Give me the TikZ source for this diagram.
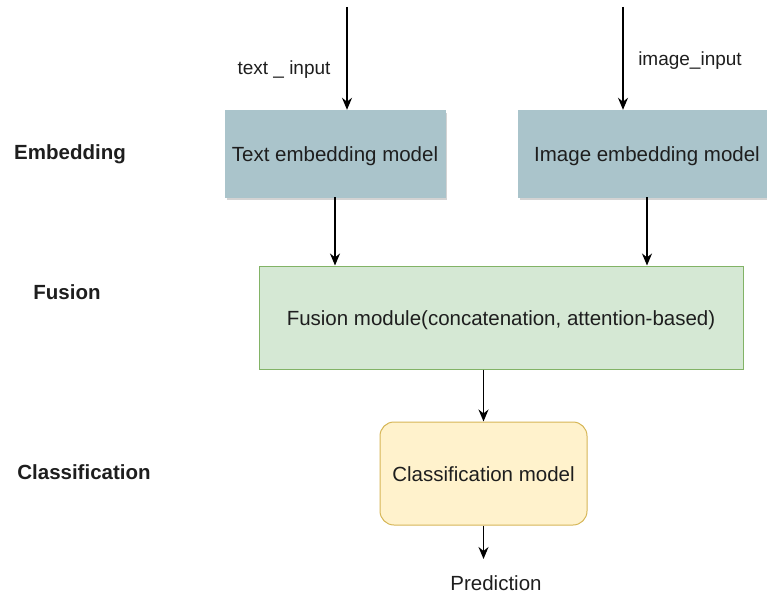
\documentclass[tikz,border=0pt]{standalone}
\usepackage{fontspec}
\setmainfont{Liberation Sans}
\usetikzlibrary{arrows.meta,shadows}
\definecolor{embfill}{RGB}{170,196,203}
\definecolor{fusfill}{RGB}{213,232,212}
\definecolor{fusline}{RGB}{130,179,102}
\definecolor{clsfill}{RGB}{255,242,204}
\definecolor{clsline}{RGB}{214,182,86}
\definecolor{ink}{RGB}{30,30,30}
\tikzset{
  base/.style={font=\fontsize{20.5}{24}\selectfont, text=ink},
  boxtext/.style={base, text height=17pt, text depth=2pt},
  embbox/.style={boxtext, rectangle, fill=embfill, draw=embfill, minimum height=87pt,
    drop shadow={shadow xshift=2pt, shadow yshift=-3pt, opacity=0.35, fill=gray}},
  fusbox/.style={boxtext, rectangle, fill=fusfill, draw=fusline, line width=1pt,
    minimum width=484pt, minimum height=103pt},
  clsbox/.style={boxtext, rectangle, rounded corners=14pt, fill=clsfill, draw=clsline, line width=1pt,
    minimum width=207pt, minimum height=103pt},
  lane/.style={font=\fontsize{20.5}{24}\selectfont\bfseries, text=ink},
  inlabel/.style={font=\fontsize{19}{22}\selectfont, text=ink},
  flow/.style={draw=black, line width=1.4pt, -{Stealth[length=12pt, width=10pt]}}
}
\begin{document}
\begin{tikzpicture}[x=1pt, y=-1pt]
  \useasboundingbox (0,0) rectangle (767,596);

  % stage labels
  \node[lane] (lemb) at (70,154) {Embedding};
  \node[lane] (lfus) at (67,292) {Fusion};
  \node[lane] (lcls) at (84,472) {Classification};

  % boxes
  \node[embbox, minimum width=220pt] (te) at (335,153.5) {Text embedding model};
  \node[embbox, minimum width=258pt] (ie) at (647,153.5) {Image embedding model};
  \node[fusbox] (fu) at (501,317.5) {Fusion module(concatenation, attention-based)};
  \node[clsbox] (cl) at (483.5,473.5) {Classification model};
  \node[base, anchor=north] (pred) at (496,572) {Prediction};

  % inputs
  \coordinate (tin) at (347,7);
  \coordinate (iin) at (623,7);
  \node[inlabel] (tlab) at (284,70) {text \_ input};
  \node[inlabel] (ilab) at (690,61) {image\_input};

  % connectors
  \draw[flow] (tin) -- (tin |- te.north);
  \draw[flow] (iin) -- (iin |- ie.north);
  \draw[flow] (te.south) -- (te.south |- fu.north);
  \draw[flow] (ie.south) -- (ie.south |- fu.north);
  \draw[flow] (fu.south -| cl.north) -- (cl.north);
  \coordinate (pend) at (484,559);
  \draw[flow] (cl.south) -- (cl.south |- pend);
\end{tikzpicture}
\end{document}
